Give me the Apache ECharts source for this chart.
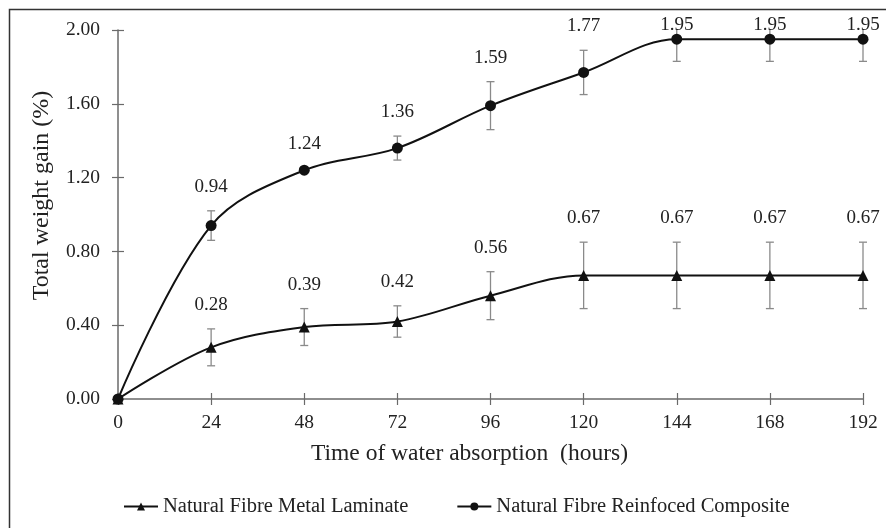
<!DOCTYPE html>
<html><head><meta charset="utf-8">
<script src="https://cdn.jsdelivr.net/npm/echarts@6/dist/echarts.min.js"></script>
<style>html,body{margin:0;padding:0;background:#fff}#c{width:886px;height:528px}</style>
</head><body><div id="c"></div>
<script>
const hours = [0, 24, 48, 72, 96, 120, 144, 168, 192];
const laminate = [0, 0.28, 0.39, 0.42, 0.56, 0.67, 0.67, 0.67, 0.67];
const laminateErr = [0, 0.10, 0.10, 0.085, 0.13, 0.18, 0.18, 0.18, 0.18];
const composite = [0, 0.94, 1.24, 1.36, 1.59, 1.77, 1.95, 1.95, 1.95];
const compositeErr = [0, 0.08, 0.01, 0.065, 0.13, 0.12, 0.12, 0.12, 0.12];
const yTicks = ['0.00', '0.40', '0.80', '1.20', '1.60', '2.00'];
const names = ['Natural Fibre Metal Laminate', 'Natural Fibre Reinfoced Composite'];

const FONT = 'Liberation Serif';
const YMAX = 2.0;
const chart = echarts.init(document.getElementById('c'));

function pts(vals) { return hours.map((h, i) => [h, vals[i]]); }
function errData(vals, errs) { return hours.map((h, i) => [h, vals[i], errs[i]]); }

function errRender(params, api) {
  const x = api.value(0), v = api.value(1), e = api.value(2);
  const children = [];
  if (x !== 0) {
    const topV = Math.min(v + e, YMAX);
    const pTop = api.coord([x, topV]);
    const pBot = api.coord([x, v - e]);
    const cw = 4;
    const st = { stroke: '#8a8a8a', lineWidth: 1.3 };
    children.push({ type: 'line', shape: { x1: pTop[0], y1: pTop[1], x2: pBot[0], y2: pBot[1] }, style: st });
    if (v + e <= YMAX) children.push({ type: 'line', shape: { x1: pTop[0] - cw, y1: pTop[1], x2: pTop[0] + cw, y2: pTop[1] }, style: st });
    children.push({ type: 'line', shape: { x1: pBot[0] - cw, y1: pBot[1], x2: pBot[0] + cw, y2: pBot[1] }, style: st });
    let ly = pTop[1] - 24;
    if (ly < 25) ly = 25;
    children.push({ type: 'text', style: { x: pTop[0], y: ly, text: v.toFixed(2), fill: '#222', font: '19px "' + FONT + '"', align: 'center', verticalAlign: 'middle' } });
  }
  return { type: 'group', children };
}

const axisCommon = {
  type: 'value',
  axisLine: { show: true, lineStyle: { color: '#6a6a6a', width: 1.5 } },
  splitLine: { show: false },
  axisTick: { show: true, length: 6, lineStyle: { color: '#6a6a6a', width: 1.2 } },
};

chart.setOption({
  animation: false,
  backgroundColor: '#fff',
  textStyle: { fontFamily: FONT },
  graphic: [{ type: 'rect', shape: { x: 9.5, y: 9.5, width: 1000, height: 1000 }, style: { fill: 'none', stroke: '#333', lineWidth: 1.5 }, z: 100 }],
  grid: { left: 118, right: 23, top: 30, bottom: 129 },
  legend: {
    top: 491, left: 118, itemGap: 48, itemWidth: 34, itemHeight: 10,
    textStyle: { fontFamily: FONT, fontSize: 20.5, color: '#222' },
    data: names
  },
  xAxis: [
    Object.assign({}, axisCommon, {
      min: 0, max: 192, interval: 24,
      name: 'Time of water absorption  (hours)', nameLocation: 'middle', nameGap: 43,
      nameTextStyle: { fontFamily: FONT, fontSize: 23.5, color: '#222', padding: [0, 42, 0, 0] },
      axisLabel: { fontFamily: FONT, fontSize: 19.5, color: '#222', margin: 14 }
    }),
    Object.assign({}, axisCommon, {
      min: 0, max: 192, interval: 24, position: 'bottom', gridIndex: 0,
      axisLine: { show: false }, axisLabel: { show: false },
      axisTick: { show: true, inside: true, length: 6, lineStyle: { color: '#6a6a6a', width: 1.2 } }
    })
  ],
  yAxis: [
    Object.assign({}, axisCommon, {
      min: 0, max: 2, interval: 0.4,
      name: 'Total weight gain (%)', nameLocation: 'middle', nameGap: 64,
      nameTextStyle: { fontFamily: FONT, fontSize: 24, color: '#222', padding: [0, 0, 0, 38] },
      axisLabel: { fontFamily: FONT, fontSize: 19.5, color: '#222', margin: 18, formatter: (v) => yTicks[Math.round(v / 0.4)] }
    }),
    Object.assign({}, axisCommon, {
      min: 0, max: 2, interval: 0.4, position: 'left',
      axisLine: { show: false }, axisLabel: { show: false },
      axisTick: { show: true, inside: true, length: 6, lineStyle: { color: '#6a6a6a', width: 1.2 } }
    })
  ],
  series: [
    { type: 'custom', name: 'errLam', renderItem: errRender, data: errData(laminate, laminateErr), clip: false, z: 1, encode: { x: 0, y: 1 } },
    { type: 'custom', name: 'errComp', renderItem: errRender, data: errData(composite, compositeErr), clip: false, z: 1, encode: { x: 0, y: 1 } },
    {
      type: 'line', name: names[0], data: pts(laminate), smooth: 0.35,
      symbol: 'triangle', symbolSize: 11, z: 5,
      lineStyle: { color: '#111', width: 2 }, itemStyle: { color: '#111' }
    },
    {
      type: 'line', name: names[1], data: pts(composite), smooth: 0.35,
      symbol: 'circle', symbolSize: 11, z: 5,
      lineStyle: { color: '#111', width: 2 }, itemStyle: { color: '#111' }
    }
  ]
});
</script></body></html>
